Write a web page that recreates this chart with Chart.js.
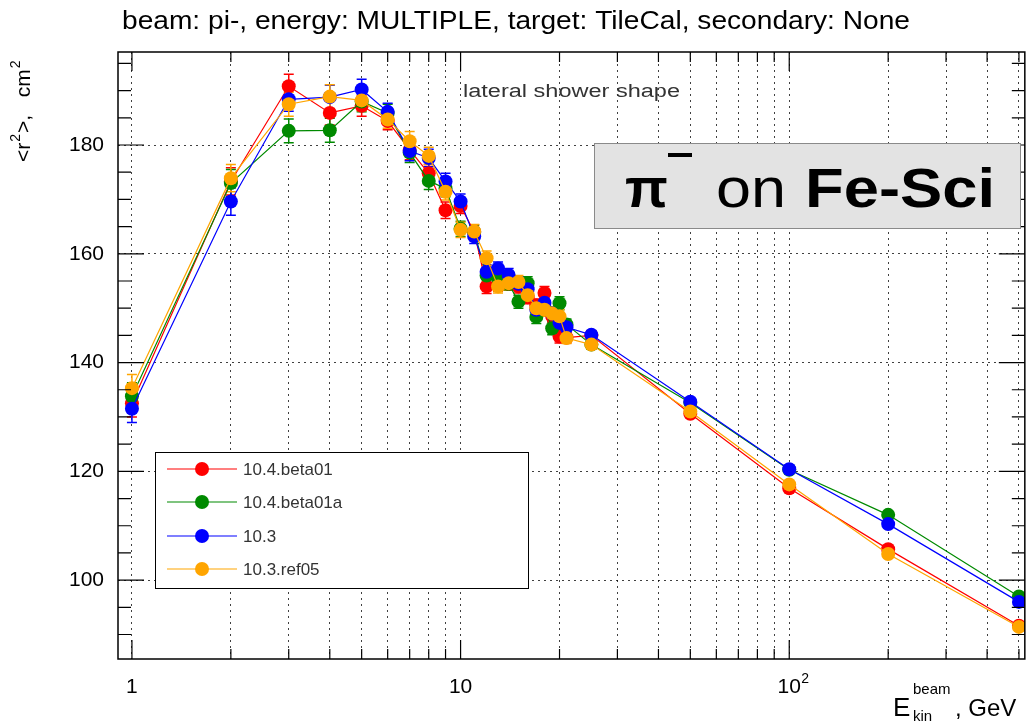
<!DOCTYPE html>
<html>
<head>
<meta charset="utf-8">
<script src="https://cdn.jsdelivr.net/npm/chart.js@4"></script>
<style>
  html, body { margin: 0; padding: 0; background: #fff; }
  #wrap { width: 1035px; height: 724px; position: relative; }
</style>
</head>
<body>
<div id="wrap"><canvas id="c" width="1035" height="724"></canvas></div>
<script>
// ---- data ----
const energies      = [1, 2, 3, 4, 5, 6, 7, 8, 9, 10, 11, 12, 13, 14, 15, 16, 17, 18, 19, 20, 21, 25, 50, 100, 200, 500];
const r2_beta01     = [132.5, 173.3, 190.8, 185.9, 187.2, 184.4, 179.1, 174.8, 168.0, 168.8, 164.0, 154.0, 154.3, 154.5, 154.0, 152.0, 150.5, 152.8, 148.5, 144.8, 144.6, 145.0, 130.6, 116.9, 105.7, 91.6];
const r2_beta01a    = [133.8, 173.0, 182.6, 182.7, 188.0, 185.9, 178.6, 173.4, 172.0, 164.6, 164.0, 156.0, 155.5, 154.5, 151.2, 154.6, 148.4, 150.0, 146.3, 150.9, 147.0, 143.3, 132.6, 120.3, 112.0, 97.0];
const r2_103        = [131.5, 169.6, 188.4, 188.8, 190.2, 186.1, 178.9, 177.6, 173.3, 169.6, 163.2, 156.7, 157.3, 156.1, 154.5, 153.5, 149.7, 151.0, 149.0, 147.3, 146.5, 145.1, 132.8, 120.4, 110.3, 96.0];
const r2_103ref05   = [135.3, 173.9, 187.5, 188.9, 188.2, 184.7, 180.7, 178.0, 171.4, 164.4, 164.1, 159.2, 154.0, 154.6, 154.8, 152.4, 150.0, 149.7, 149.0, 148.5, 144.5, 143.3, 131.0, 117.6, 104.8, 91.4];
const r2_errors     = [2.5, 2.5, 2.2, 2.2, 1.9, 1.6, 1.8, 1.6, 1.5, 1.4, 1.3, 1.3, 1.2, 1.2, 1.2, 1.2, 1.2, 1.2, 1.2, 1.2, 1.0, 0.8, 0.4, 0.3, 0.3, 0.3];
const seriesLabels  = ['10.4.beta01', '10.4.beta01a', '10.3', '10.3.ref05'];
const seriesColors  = ['#ff0000', '#008a00', '#0000ff', '#ffa500'];
const xTickValues   = [1,2,3,4,5,6,7,8,9,10,20,30,40,50,60,70,80,90,100,200,300,400,500];
const xTickLabels   = {1: '1', 10: '10', 100: '10'};
const yTickValues   = [100, 120, 140, 160, 180];
const yMinorTicks   = [90,95,100,105,110,115,120,125,130,135,140,145,150,155,160,165,170,175,180,185,190,195];
const titleText     = 'beam: pi-, energy: MULTIPLE, target: TileCal, secondary: None';
const subTitleText  = 'lateral shower shape';

const FONT = '"Liberation Sans", Arial, Helvetica, sans-serif';
const allSeries = [r2_beta01, r2_beta01a, r2_103, r2_103ref05];

const datasets = allSeries.map((vals, i) => ({
  label: seriesLabels[i],
  data: energies.map((e, k) => ({x: e, y: vals[k]})),
  borderColor: seriesColors[i],
  backgroundColor: seriesColors[i],
  pointBackgroundColor: seriesColors[i],
  pointBorderWidth: 0,
  pointRadius: 7,
  borderWidth: 1.2,
  fill: false,
  tension: 0,
  order: 4 - i
}));

function fitText(ctx, text, x, y, width) {
  const w = ctx.measureText(text).width;
  ctx.save();
  ctx.translate(x, y);
  ctx.scale(width / w, 1);
  ctx.fillText(text, 0, 0);
  ctx.restore();
}

const decorPlugin = {
  id: 'decor',
  beforeDatasetsDraw(chart) {
    const ctx = chart.ctx, xs = chart.scales.x, ys = chart.scales.y;
    ctx.save();
    allSeries.forEach((vals, i) => {
      ctx.strokeStyle = seriesColors[i];
      ctx.lineWidth = 1.5;
      energies.forEach((e, k) => {
        const px = xs.getPixelForValue(e);
        const y1 = ys.getPixelForValue(vals[k] - r2_errors[k]);
        const y2 = ys.getPixelForValue(vals[k] + r2_errors[k]);
        ctx.beginPath();
        ctx.moveTo(px, y1); ctx.lineTo(px, y2);
        ctx.moveTo(px - 5, y1); ctx.lineTo(px + 5, y1);
        ctx.moveTo(px - 5, y2); ctx.lineTo(px + 5, y2);
        ctx.stroke();
      });
    });
    ctx.restore();
  },
  afterDatasetsDraw(chart) {
    const ctx = chart.ctx, xs = chart.scales.x, ys = chart.scales.y;
    const a = chart.chartArea;
    ctx.save();
    ctx.strokeStyle = '#000';
    ctx.lineWidth = 1.5;
    ctx.strokeRect(a.left, a.top, a.right - a.left, a.bottom - a.top);
    ctx.lineWidth = 1.2;
    ctx.beginPath();
    xTickValues.forEach(v => {
      const px = xs.getPixelForValue(v);
      const len = (v === 1 || v === 10 || v === 100) ? 19 : 10;
      ctx.moveTo(px, a.bottom); ctx.lineTo(px, a.bottom - len);
      ctx.moveTo(px, a.top); ctx.lineTo(px, a.top + len);
    });
    yMinorTicks.forEach(v => {
      const py = ys.getPixelForValue(v);
      const len = (v % 20 === 0) ? 26 : 13;
      ctx.moveTo(a.left, py); ctx.lineTo(a.left + len, py);
      ctx.moveTo(a.right, py); ctx.lineTo(a.right - len, py);
    });
    ctx.stroke();

    // superscript of the 10^2 tick label
    ctx.fillStyle = '#000';
    ctx.font = '14px ' + FONT;
    ctx.textAlign = 'left';
    ctx.textBaseline = 'alphabetic';
    ctx.fillText('2', xs.getPixelForValue(100) + 12, 683);

    // sub title
    ctx.fillStyle = '#333';
    ctx.font = '18px ' + FONT;
    fitText(ctx, subTitleText, 463, 97, 217);

    // pi box
    ctx.fillStyle = '#e3e3e3';
    ctx.fillRect(594, 143, 426, 85);
    ctx.strokeStyle = '#8a8a8a';
    ctx.lineWidth = 1;
    ctx.strokeRect(594.5, 143.5, 426, 85);
    ctx.fillStyle = '#000';
    ctx.font = 'bold 56px ' + FONT;
    ctx.fillText('\u03C0', 625, 207);
    ctx.fillRect(668, 153, 24, 4);
    ctx.font = '56px ' + FONT;
    fitText(ctx, 'on', 716, 207, 70);
    ctx.font = 'bold 56px ' + FONT;
    fitText(ctx, 'Fe-Sci', 805, 207, 190);

    // legend
    const lx = 155, ly = 452, lw = 373, lh = 136;
    ctx.fillStyle = '#fff';
    ctx.fillRect(lx, ly, lw, lh);
    ctx.strokeStyle = '#000';
    ctx.lineWidth = 1;
    ctx.strokeRect(lx + 0.5, ly + 0.5, lw, lh);
    const rows = [469, 502, 536, 569];
    seriesLabels.forEach((lab, i) => {
      const cy = rows[i];
      ctx.strokeStyle = seriesColors[i];
      ctx.lineWidth = 1.2;
      ctx.beginPath(); ctx.moveTo(167, cy); ctx.lineTo(237, cy); ctx.stroke();
      ctx.fillStyle = seriesColors[i];
      ctx.beginPath(); ctx.arc(202, cy, 7, 0, Math.PI * 2); ctx.fill();
      ctx.fillStyle = '#333';
      ctx.font = '17px ' + FONT;
      ctx.textBaseline = 'middle';
      ctx.fillText(lab, 243, cy + 1);
    });
    ctx.textBaseline = 'alphabetic';
    ctx.restore();
  },
  afterDraw(chart) {
    const ctx = chart.ctx;
    ctx.save();
    ctx.fillStyle = '#000';
    ctx.textAlign = 'left';
    ctx.textBaseline = 'alphabetic';
    ctx.font = '26px ' + FONT;
    fitText(ctx, titleText, 122, 29, 788);

    // y axis title, rotated
    ctx.translate(30, 162);
    ctx.rotate(-Math.PI / 2);
    let x = 0;
    ctx.font = '21px ' + FONT;
    ctx.fillText('<r', x, 0); x += ctx.measureText('<r').width + 1;
    ctx.font = '14px ' + FONT;
    ctx.fillText('2', x, -10); x += ctx.measureText('2').width + 1;
    ctx.font = '21px ' + FONT;
    ctx.fillText('>,   cm', x, 0); x += ctx.measureText('>,   cm').width + 1;
    ctx.font = '14px ' + FONT;
    ctx.fillText('2', x, -10);
    ctx.restore();

    // x axis title
    ctx.save();
    ctx.fillStyle = '#000';
    ctx.font = '26px ' + FONT;
    ctx.fillText('E', 893, 716);
    ctx.font = '15px ' + FONT;
    ctx.fillText('beam', 913, 694);
    ctx.fillText('kin', 913, 721);
    ctx.font = '24px ' + FONT;
    ctx.fillText(', GeV', 955, 716);
    ctx.restore();
  }
};

new Chart(document.getElementById('c'), {
  type: 'line',
  data: { datasets },
  plugins: [decorPlugin],
  options: {
    responsive: false,
    animation: false,
    events: [],
    layout: { padding: { top: 52, right: 5, left: 0, bottom: 0 } },
    plugins: { legend: { display: false }, tooltip: { enabled: false }, title: { display: false } },
    scales: {
      x: {
        type: 'logarithmic',
        min: 0.907, max: 521,
        afterBuildTicks: s => { s.ticks = xTickValues.map(v => ({value: v})); },
        afterFit: s => { s.height = 65; },
        grid: { display: true, color: 'rgba(0,0,0,0.75)', lineWidth: 1, drawTicks: false },
        border: { display: false, dash: [2, 4] },
        ticks: {
          autoSkip: false, maxRotation: 0, padding: 16,
          color: '#000', font: { family: FONT, size: 21 },
          callback: v => xTickLabels[v] || ''
        }
      },
      y: {
        type: 'linear',
        min: 85.5, max: 197.1,
        afterBuildTicks: s => { s.ticks = yTickValues.map(v => ({value: v})); },
        afterFit: s => { s.width = 118; },
        grid: { display: true, color: 'rgba(0,0,0,0.75)', lineWidth: 1, drawTicks: false },
        border: { display: false, dash: [2, 4] },
        ticks: { padding: 14, color: '#000', font: { family: FONT, size: 21 } }
      }
    }
  }
});
</script>
</body>
</html>
